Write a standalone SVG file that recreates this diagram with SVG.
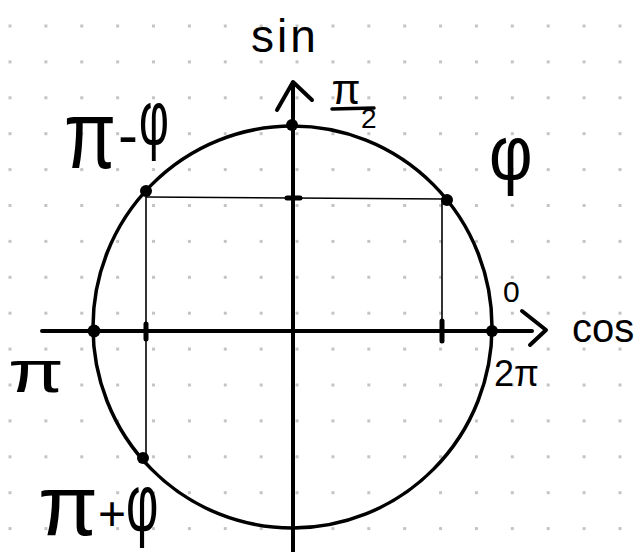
<svg xmlns="http://www.w3.org/2000/svg" width="640" height="552" viewBox="0 0 640 552">
<defs>
<pattern id="grid" x="8.5" y="24.5" width="35.88" height="35.9" patternUnits="userSpaceOnUse">
<rect x="0" y="0" width="3" height="3" fill="#c4c4c4"/>
</pattern>
<style>
.thick{stroke:#000;stroke-width:4;fill:none;stroke-linecap:round;stroke-linejoin:round}
.thin{stroke:#000;stroke-width:1.6;fill:none}
.tick{stroke:#000;stroke-width:5;stroke-linecap:round}
.pt{fill:#000}
.lbl{font-family:"Liberation Sans","DejaVu Sans",sans-serif;fill:#000}
</style>
</defs>
<rect width="640" height="552" fill="#fff"/>
<rect width="640" height="552" fill="url(#grid)"/>

<g id="connectors">
<line class="thin" x1="146" y1="197" x2="446" y2="199"/>
<line class="thin" x1="442" y1="199" x2="442" y2="331"/>
<line class="thin" x1="146" y1="197" x2="146" y2="458"/>
<line class="thick" x1="42" y1="331" x2="532" y2="331"/>
<polyline class="thick" points="522,311 546,330 530,345"/>
<line class="thick" x1="293" y1="84" x2="293" y2="556"/>
<polyline class="thick" points="277,110 293,82 312,100"/>
<line class="tick" x1="287" y1="198" x2="300" y2="198"/>
<line class="tick" x1="146" y1="324" x2="146" y2="339"/>
<line class="tick" x1="442" y1="321" x2="442" y2="341"/>
</g>

<g id="circle">
<ellipse class="thick" cx="292.5" cy="327" rx="199.5" ry="201" style="stroke-width:3.5"/>
</g>

<g id="points">
<circle class="pt" cx="292" cy="125" r="6"/>
<circle class="pt" cx="447" cy="200" r="6"/>
<circle class="pt" cx="146" cy="191" r="6"/>
<circle class="pt" cx="94" cy="331" r="6.5"/>
<circle class="pt" cx="492" cy="331" r="6"/>
<circle class="pt" cx="143" cy="458" r="6"/>
</g>

<g id="label-sin"><text class="lbl" x="251" y="52" font-size="46" letter-spacing="3">sin</text></g>
<g id="label-pi2">
<text class="lbl" x="346" y="104" font-size="42" text-anchor="middle">π</text>
<line x1="332" y1="109" x2="374" y2="108" stroke="#000" stroke-width="3.5" stroke-linecap="round"/>
<text class="lbl" x="361" y="128" font-size="28">2</text>
</g>
<g id="label-cos"><text class="lbl" x="572" y="342" font-size="40">cos</text></g>
<g id="label-zero"><text class="lbl" x="503" y="302" font-size="30">0</text></g>
<g id="label-2pi"><text class="lbl" x="494" y="386" font-size="36">2π</text></g>
<g id="label-pi"><text class="lbl" font-size="60" transform="translate(8,392) scale(1.35,1)">π</text></g>
<g id="label-phi"><text class="lbl" font-size="64" transform="translate(489,180) scale(1.05,1.22)">φ</text></g>
<g id="label-pi-minus-phi">
<text class="lbl" font-size="64" transform="translate(64,168) scale(1.18,1.5)">π</text>
<text class="lbl" x="118" y="155" font-size="60">-</text>
<text class="lbl" font-size="64" transform="translate(139,145) scale(0.72,1.22)">φ</text>
</g>
<g id="label-pi-plus-phi">
<text class="lbl" font-size="64" transform="translate(38,535) scale(1.36,1.32)">π</text>
<text class="lbl" x="98" y="530" font-size="48">+</text>
<text class="lbl" font-size="64" transform="translate(126,531) scale(0.78,1.28)">φ</text>
</g>
</svg>
